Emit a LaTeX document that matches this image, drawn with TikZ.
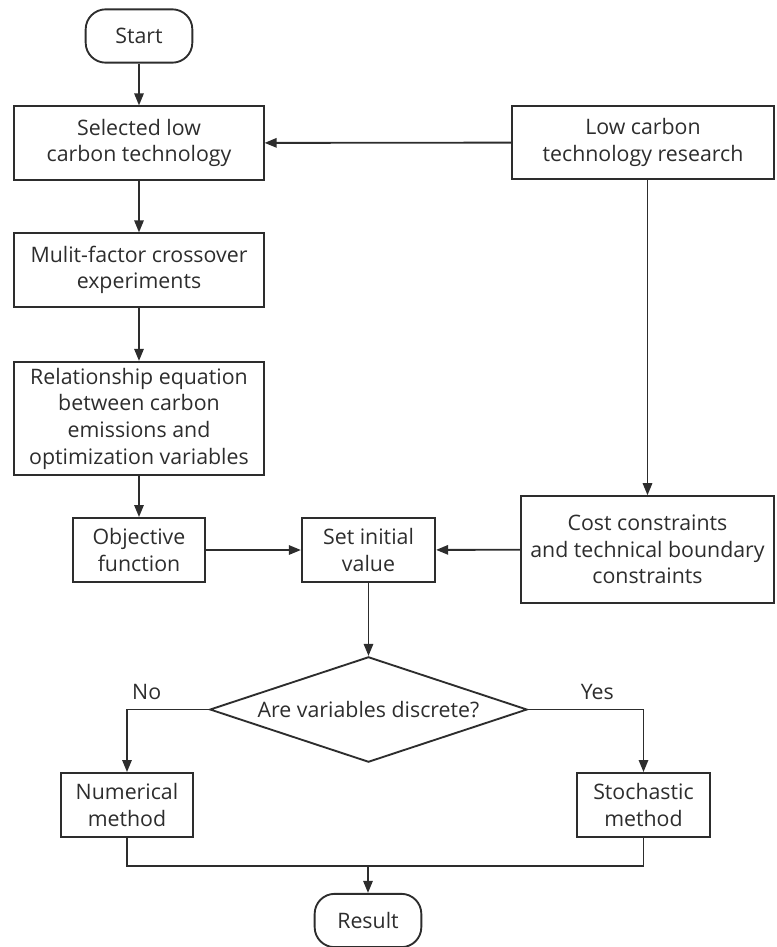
\documentclass[tikz,border=0pt]{standalone}
\usepackage{fontspec}
\setmainfont{Open Sans}
\usetikzlibrary{shapes.geometric, arrows.meta, positioning, calc}
\definecolor{ink}{RGB}{45, 45, 45}

\begin{document}
\begin{tikzpicture}[x=0.75pt, y=-0.75pt,
    box/.style={rectangle, draw=ink, line width=1.4pt, align=center, text=ink,
                inner sep=0pt, font=\fontsize{16}{20}\selectfont},
    term/.style={box, rounded corners=15pt},
    decision/.style={diamond, aspect=3, draw=ink, line width=1.4pt, text=ink, inner sep=0pt,
                font=\fontsize{16}{20}\selectfont},
    line/.style={draw=ink, line width=1.4pt},
    arrow/.style={line, -{Triangle[length=9pt, width=7pt]}}]

    \useasboundingbox (0,0) rectangle (776,947);

    % Start and technology selection
    \node[term, minimum width=80pt, minimum height=40pt] (start) at (139, 36) {Start};
    \node[box, minimum width=187pt, minimum height=55pt] (sel) at (139, 143) {Selected low\\carbon technology};
    \node[box, minimum width=196pt, minimum height=55pt] (res) at (643, 142.5) {Low carbon\\technology research};

    % Experiments and model
    \node[box, minimum width=187pt, minimum height=55pt] (mul) at (139, 270) {Mulit-factor crossover\\experiments};
    \node[box, minimum width=187pt, minimum height=85pt] (rel) at (139, 418.5) {Relationship equation\\between carbon\\emissions and\\optimization variables};

    % Optimization setup
    \node[box, minimum width=99pt, minimum height=48pt] (obj) at (139, 550) {Objective\\function};
    \node[box, minimum width=100pt, minimum height=48pt] (set) at (368.5, 550) {Set initial\\value};
    \node[box, minimum width=190pt, minimum height=80pt] (cost) at (647.5, 549.5) {Cost constraints\\and technical boundary\\constraints};

    % Decision
    \node[decision, minimum width=238pt, minimum height=79pt] (dec) at (368.5, 709.5) {Are variables discrete?};

    % Methods and result
    \node[box, minimum width=99pt, minimum height=48pt] (num) at (127, 805) {Numerical\\method};
    \node[box, minimum width=100pt, minimum height=48pt] (sto) at (643.5, 805) {Stochastic\\method};
    \node[term, minimum width=80pt, minimum height=40pt] (rst) at (368, 920.5) {Result};
    \coordinate (join) at (368, 866);

    % Arrows
    \draw[arrow] (start) -- (sel);
    \draw[arrow] (res) -- (sel);
    \draw[arrow] (sel) -- (mul);
    \draw[arrow] (mul) -- (rel);
    \draw[arrow] (rel) -- (obj);
    \draw[arrow] (obj) -- (set);
    \draw[arrow] (res.south -| cost.north) -- (cost.north);
    \draw[arrow] (cost) -- (set);
    \draw[arrow] (set) -- (dec);
    \draw[arrow] (dec.west) -| node[pos=0.38, above=3pt, text=ink, font=\fontsize{16}{20}\selectfont]{No} (num.north);
    \draw[arrow] (dec.east) -| node[pos=0.3, above=3pt, text=ink, font=\fontsize{16}{20}\selectfont]{Yes} (sto.north);
    \draw[line] (num.south) |- (join) -| (sto.south);
    \draw[arrow] (join) -- (rst.north);
\end{tikzpicture}
\end{document}
